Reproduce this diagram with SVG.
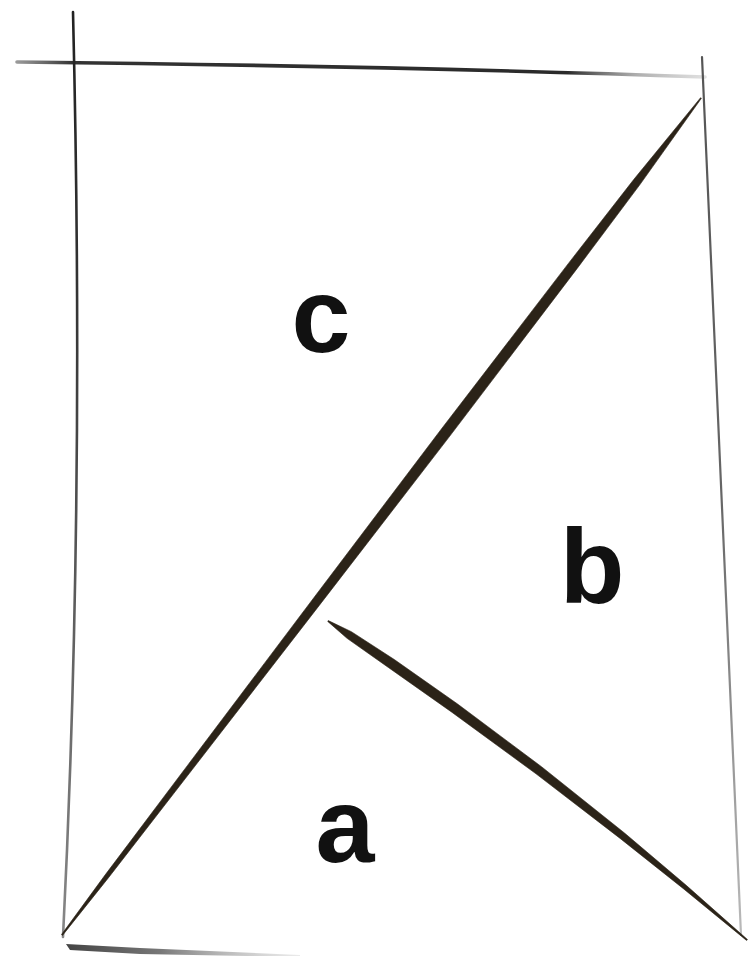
<svg xmlns="http://www.w3.org/2000/svg" width="749" height="956" viewBox="0 0 749 956">
  <defs>
    <linearGradient id="gTop" gradientUnits="userSpaceOnUse" x1="17" y1="0" x2="705" y2="0">
      <stop offset="0" stop-color="#555" stop-opacity="0.6"/>
      <stop offset="0.08" stop-color="#333"/>
      <stop offset="0.8" stop-color="#2a2a2a"/>
      <stop offset="0.9" stop-color="#777" stop-opacity="0.6"/>
      <stop offset="1" stop-color="#999" stop-opacity="0.3"/>
    </linearGradient>
    <linearGradient id="gLeft" gradientUnits="userSpaceOnUse" x1="0" y1="12" x2="0" y2="940">
      <stop offset="0" stop-color="#222"/>
      <stop offset="0.3" stop-color="#333"/>
      <stop offset="1" stop-color="#888"/>
    </linearGradient>
    <linearGradient id="gRight" gradientUnits="userSpaceOnUse" x1="0" y1="57" x2="0" y2="940">
      <stop offset="0" stop-color="#555"/>
      <stop offset="0.5" stop-color="#666"/>
      <stop offset="1" stop-color="#bbb"/>
    </linearGradient>
    <linearGradient id="gBottom" gradientUnits="userSpaceOnUse" x1="66" y1="0" x2="300" y2="0">
      <stop offset="0" stop-color="#444"/>
      <stop offset="0.4" stop-color="#777"/>
      <stop offset="1" stop-color="#ccc" stop-opacity="0.4"/>
    </linearGradient>
  </defs>
  <style>
    .ink { fill: #2b2318; stroke: #2b2318; stroke-width: 0.6; stroke-linejoin: round; }
    .lbl { font-family: "Liberation Sans", Arial, sans-serif; font-weight: bold; font-size: 106px; fill: #111; text-anchor: middle; }
  </style>
  <rect width="749" height="956" fill="#ffffff"/>

  <g id="frame">
    <path d="M17,62 C200,64 450,68 705,77" fill="none" stroke="url(#gTop)" stroke-width="3.6" stroke-linecap="round"/>
    <path d="M73,12 C80,300 80,600 63,937" fill="none" stroke="url(#gLeft)" stroke-width="2.6" stroke-linecap="round"/>
    <path d="M702,57 C712,300 724,600 741,935" fill="none" stroke="url(#gRight)" stroke-width="2.2" stroke-linecap="round"/>
    <polygon points="66,944 140,948 300,955 300,957 140,954 70,950" fill="url(#gBottom)"/>
  </g>

  <g id="connectors">
    <polygon class="ink" points="701.4,98.3 640.3,184.1 577.2,268.4 449.8,436.1 321.2,602.9 192.3,769.5 108.5,877.7 62.5,935.4 61.5,934.6 105.0,875.1 187.3,765.7 314.0,597.5 441.0,429.5 569.2,262.4 633.9,179.3 700.6,97.7"/>
    <polygon class="ink" points="327.7,621.4 347.0,638.3 388.7,667.7 451.8,712.2 536.0,773.8 620.1,838.4 683.4,888.7 746.5,940.4 747.5,939.6 686.2,885.3 624.5,833.0 541.5,766.7 457.6,704.0 394.3,659.5 351.4,631.7 328.3,620.6"/>
  </g>

  <g id="label-c"><text class="lbl" x="321" y="352">c</text></g>
  <g id="label-b"><text class="lbl" x="592" y="603">b</text></g>
  <g id="label-a"><text class="lbl" x="345" y="862">a</text></g>
</svg>
